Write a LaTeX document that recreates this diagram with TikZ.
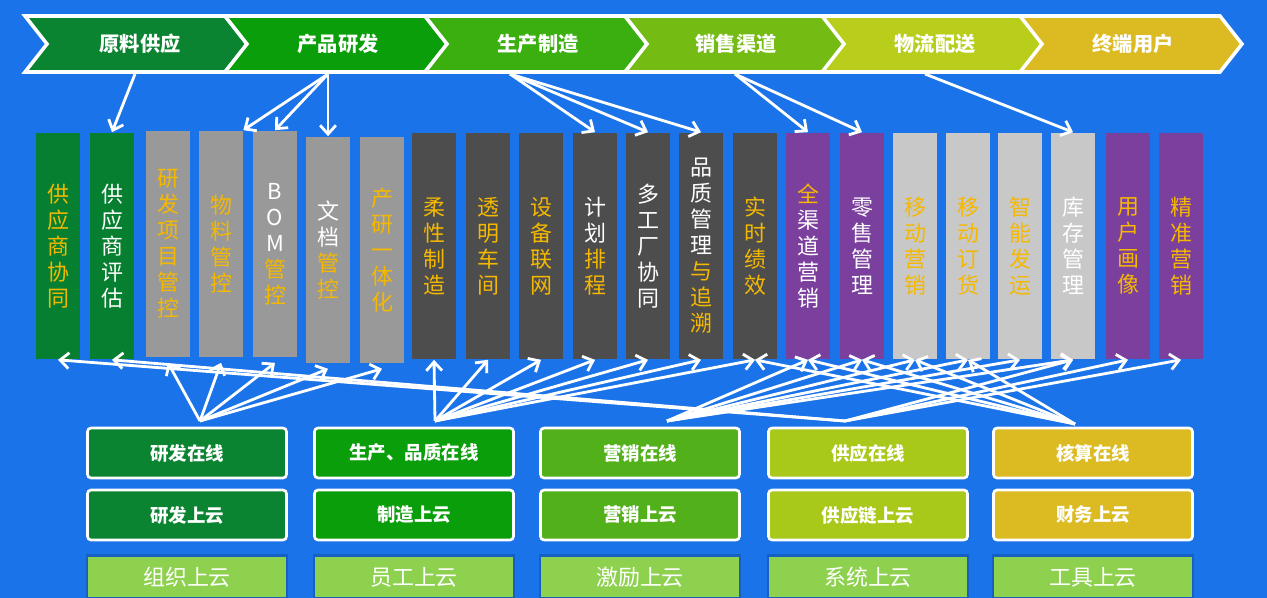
\documentclass[tikz,border=0pt]{standalone}
\usepackage{fontspec}
\setmainfont{Noto Sans CJK SC}
\usetikzlibrary{arrows.meta}
\definecolor{bg}{HTML}{1A73E8}
\definecolor{cA}{HTML}{0B8431}\definecolor{cB}{HTML}{0A9E0A}\definecolor{cC}{HTML}{3BAF10}
\definecolor{cD}{HTML}{74BB14}\definecolor{cE}{HTML}{B8CE1A}\definecolor{cF}{HTML}{DCBB22}
\definecolor{cG}{HTML}{068030}\definecolor{gr}{HTML}{999999}\definecolor{dk}{HTML}{4D4D4D}
\definecolor{pu}{HTML}{7B3F9E}\definecolor{lg}{HTML}{C8C8C8}\definecolor{yl}{HTML}{F5B800}
\definecolor{cM}{HTML}{52B01A}\definecolor{cN}{HTML}{A8C81A}\definecolor{lt}{HTML}{8ED14F}
\definecolor{bd}{HTML}{1560C0}
\begin{document}
\begin{tikzpicture}[x=0.02cm,y=-0.02cm,
 chev/.style={draw=white,line width=2pt},
 chevtxt/.style={text=white,font=\bfseries\fontsize{11.5}{12}\selectfont},
 colbox/.style={minimum width=0.88cm,minimum height=4.54cm,inner sep=0pt,align=center,
   font=\fontsize{12.5}{14.8}\selectfont,text=yl},
 box/.style={draw=white,line width=1.5pt,rounded corners=2pt,minimum width=3.98cm,minimum height=1cm,
   text=white,font=\bfseries\fontsize{10.5}{12}\selectfont},
 bbox/.style={draw=bd,line width=1.5pt,fill=lt,minimum width=4.0cm,minimum height=0.86cm,
   text=white,font=\fontsize{12.5}{14}\selectfont},
 arr/.style={white,line width=1.6pt,-{Straight Barb[length=5pt,width=9pt]}}]
\fill[bg] (0,0) rectangle (1267,598);
\useasboundingbox (0,0) rectangle (1267,598);
% chevrons
\foreach \x/\c in {25/cA,225/cB,425/cC,625/cD,822/cE,1020/cF}{
 \filldraw[chev,fill=\c] (\x,16) -- (\x+200,16) -- (\x+222,44) -- (\x+200,72) -- (\x,72) -- (\x+22,44) -- cycle;}
\node[chevtxt] (h1) at (140,44) {原料供应};
\node[chevtxt] (h2) at (338,44) {产品研发};
\node[chevtxt] (h3) at (538,44) {生产制造};
\node[chevtxt] (h4) at (736,44) {销售渠道};
\node[chevtxt] (h5) at (935,44) {物流配送};
\node[chevtxt] (h6) at (1133,44) {终端用户};
\coordinate (s1) at (135,74); \coordinate (s2) at (328,74); \coordinate (s3) at (510,74);
\coordinate (s4) at (735,74); \coordinate (s5) at (925,74);
% columns
\node[colbox,fill=cG] (k1) at (58,246) {供\\应\\商\\协\\同};
\node[colbox,fill=cG,text=white] (k2) at (112,246) {供\\应\\商\\评\\估};
\node[colbox,fill=gr] (k3) at (168,244) {研\\发\\项\\目\\管\\控};
\node[colbox,fill=gr] (k4) at (221,244) {物\\料\\管\\控};
\node[colbox,fill=gr] (k5) at (275,244) {\textcolor{white}{B}\\\textcolor{white}{O}\\\textcolor{white}{M}\\管\\控};
\node[colbox,fill=gr] (k6) at (328,250) {\textcolor{white}{文}\\\textcolor{white}{档}\\管\\控};
\node[colbox,fill=gr] (k7) at (382,250) {产\\研\\一\\体\\化};
\node[colbox,fill=dk] (k8) at (434,246) {柔\\性\\制\\造};
\node[colbox,fill=dk] (k9) at (488,246) {透\\明\\车\\间};
\node[colbox,fill=dk] (k10) at (541,246) {设\\备\\联\\网};
\node[colbox,fill=dk] (k11) at (595,246) {\textcolor{white}{计}\\\textcolor{white}{划}\\排\\程};
\node[colbox,fill=dk,text=white] (k12) at (648,246) {多\\工\\厂\\协\\同};
\node[colbox,fill=dk] (k13) at (701,246) {\textcolor{white}{品}\\\textcolor{white}{质}\\\textcolor{white}{管}\\\textcolor{white}{理}\\与\\追\\溯};
\node[colbox,fill=dk] (k14) at (755,246) {实\\时\\绩\\效};
\node[colbox,fill=pu,text=white] (k15) at (808,246) {\textcolor{yl}{全}\\渠\\道\\营\\销};
\node[colbox,fill=pu,text=white] (k16) at (862,246) {零\\售\\管\\理};
\node[colbox,fill=lg] (k17) at (915,246) {移\\动\\营\\销};
\node[colbox,fill=lg] (k18) at (968,246) {移\\动\\订\\货};
\node[colbox,fill=lg] (k19) at (1020,246) {智\\能\\发\\运};
\node[colbox,fill=lg,text=white] (k20) at (1073,246) {库\\存\\管\\理};
\node[colbox,fill=pu] (k21) at (1128,246) {用\\户\\画\\像};
\node[colbox,fill=pu] (k22) at (1181,246) {精\\准\\营\\销};
% top arrows
\draw[arr] (s1) -- (k2.north);
\draw[arr] (s2) -- (k4.north east);
\draw[arr] (s2) -- (k5.north);
\draw[arr] (s2) -- (k6.north);
\foreach \k in {11,12,13} \draw[arr] (s3) -- (k\k.north);
\draw[arr] (s4) -- (k15.north); \draw[arr] (s4) -- (k16.north);
\draw[arr] (s5) -- (k20.north);
% bottom boxes
\foreach \i/\x/\c/\t/\u in {1/187/cA/研发在线/研发上云,2/414/cB/{生产、品质在线}/制造上云,3/640/cM/营销在线/营销上云,4/868/cN/供应在线/供应链上云,5/1093/cF/核算在线/财务上云}{
 \node[box,fill=\c] (r\i) at (\x,453) {\t};
 \node[box,fill=\c] (q\i) at (\x,515) {\u};}
\node[bbox] (b1) at (187,577) {组织上云};
\node[bbox] (b2) at (414,577) {员工上云};
\node[bbox] (b3) at (640,577) {激励上云};
\node[bbox] (b4) at (868,577) {系统上云};
\node[bbox] (b5) at (1093,577) {工具上云};
\coordinate (o1) at (200,421); \coordinate (o2) at (435,421); \coordinate (o3) at (667,421);
\coordinate (o4) at (845,421); \coordinate (o5) at (1075,424);
\foreach \k in {3,4,5,6,7} \draw[arr] (o1) -- ([yshift=-0.1cm]k\k.south);
\foreach \k in {8,...,14} \draw[arr] (o2) -- (k\k.south);
\foreach \k in {15,16,17,18,19,20} \draw[arr] (o3) -- (k\k.south);
\draw[arr] (o4) -- (k1.south); \draw[arr] (o4) -- (k2.south);
\foreach \k in {20,21,22} \draw[arr] (o4) -- (k\k.south);
\foreach \k in {14,15,16,17,18} \draw[arr] (o5) -- (k\k.south);
\end{tikzpicture}
\end{document}
